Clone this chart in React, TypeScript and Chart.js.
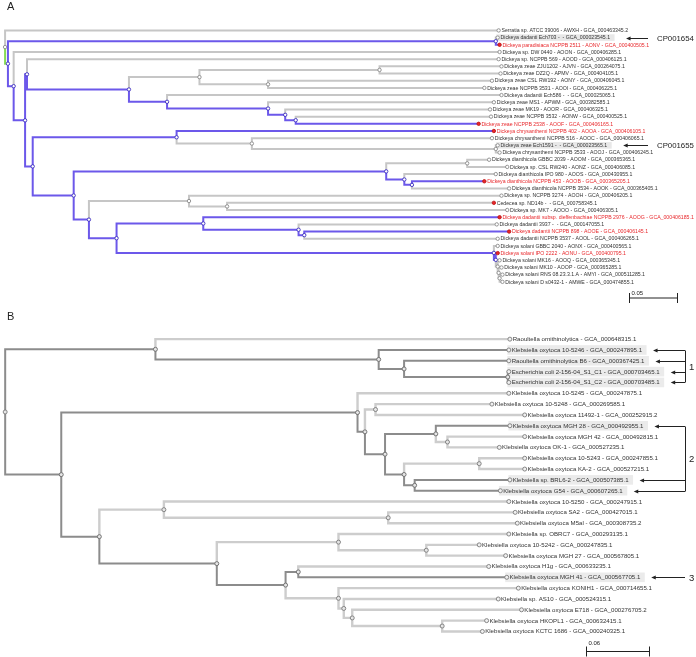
import React, { useEffect, useRef } from "react";
import { Chart, registerables } from "chart.js";

Chart.register(...registerables);

type Kid = number | string;

// ================= Panel A : Dickeya tree =================
const aLeafNames: string[] = [
  "Serratia sp. ATCC 39006 - AWXH - GCA_000463345.2",
  "Dickeya dadanti Ech703 -  - GCA_000023545.1",
  "Dickeya paradisiaca NCPPB 2511 - AONV - GCA_000400505.1",
  "Dickeya sp. DW 0440 - AOON - GCA_000406285.1",
  "Dickeya sp. NCPPB 569 - AOOD - GCA_000406125.1",
  "Dickeya zeae ZJU1202 - AJVN - GCA_000264075.1",
  "Dickeya zeae DZ2Q - APMV - GCA_000404105.1",
  "Dickeya zeae CSL RW192 - AONY - GCA_000406045.1",
  "Dickeya zeae NCPPB 3531 - AOOI - GCA_000406225.1",
  "Dickeya dadantii Ech586 -  - GCA_000025065.1",
  "Dickeya zeae MS1 - APWM - GCA_000382585.1",
  "Dickeya zeae MK19 - AOOR - GCA_000406325.1",
  "Dickeya zeae NCPPB 3532 - AONW - GCA_000400525.1",
  "Dickeya zeae NCPPB 2538 - AOOF - GCA_000406165.1",
  "Dickeya chrysanthemi NCPPB 402 - AOOA - GCA_000406105.1",
  "Dickeya chrysanthemi NCPPB 516 - AOOC - GCA_000406065.1",
  "Dickeya zeae Ech1591 -  - GCA_000023565.1",
  "Dickeya chrysanthemi NCPPB 3533 - AOOJ - GCA_000406245.1",
  "Dickeya dianthicola GBBC 2039 - AOOM - GCA_000365365.1",
  "Dickeya sp. CSL RW240 - AONZ - GCA_000406085.1",
  "Dickeya dianthicola IPO 980 - AOOS - GCA_000430955.1",
  "Dickeya dianthicola NCPPB 453 - AOOB - GCA_000365205.1",
  "Dickeya dianthicola NCPPB 3534 - AOOK - GCA_000365405.1",
  "Dickeya sp. NCPPB 3274 - AOOH - GCA_000406205.1",
  "Cedecea sp. ND14b -  - GCA_000758345.1",
  "Dickeya sp. MK7 - AOOO - GCA_000406305.1",
  "Dickeya dadantii subsp. dieffenbachiae NCPPB 2976 - AOOG - GCA_000406185.1",
  "Dickeya dadantii 3937 -  - GCA_000147055.1",
  "Dickeya dadantii NCPPB 898 - AOOE - GCA_000406145.1",
  "Dickeya dadantii NCPPB 3537 - AOOL - GCA_000406265.1",
  "Dickeya solani GBBC 2040 - AONX - GCA_000400565.1",
  "Dickeya solani IPO 2222 - AONU - GCA_000400795.1",
  "Dickeya solani MK16 - AOOQ - GCA_000365345.1",
  "Dickeya solani MK10 - AOOP - GCA_000365285.1",
  "Dickeya solani RNS 08.23.3.1.A - AMYI - GCA_000511285.1",
  "Dickeya solani D s0432-1 - AMWE - GCA_000474855.1",
];
// distance of each leaf from the root (substitutions / site)
const aLeafX: number[] = [
  0.518, 0.517, 0.519, 0.519, 0.518, 0.521, 0.52, 0.511, 0.503, 0.521, 0.513, 0.509,
  0.51, 0.497, 0.513, 0.511, 0.517, 0.519, 0.508, 0.527, 0.515, 0.503, 0.529, 0.521,
  0.513, 0.527, 0.519, 0.516, 0.529, 0.517, 0.517, 0.517, 0.519, 0.521, 0.522, 0.522,
];
// internal nodes: distance from root, and children (numbers = leaves, "nK" = node K)
const aNodeX: number[] = [
  0, 0.003, 0.515, 0.009, 0.021, 0.023, 0.13, 0.204, 0.393, 0.276, 0.17, 0.276,
  0.294, 0.305, 0.029, 0.18, 0.259, 0.515, 0.072, 0.4, 0.485, 0.419, 0.427, 0.088,
  0.193, 0.233, 0.117, 0.208, 0.308, 0.314, 0.513, 0.515, 0.517, 0.518, 0.519,
];
const aNodeKids: Kid[][] = [
  [0, "n1"], ["n2", "n3"], [1, 2], [3, "n4"], ["n5", "n14"], [4, "n6"],
  ["n7", "n10"], ["n8", "n9"], [5, 6], [7, 8], [9, "n11"], [10, "n12"],
  [11, "n13"], [12, 13], ["n15", "n18"], [14, "n16"], [15, "n17"], [16, 17],
  ["n19", "n23"], ["n20", "n21"], [18, 19], [20, "n22"], [21, 22], ["n24", "n26"],
  [23, "n25"], [24, 25], ["n27", "n30"], [26, "n28"], [27, "n29"], [28, 29],
  [30, "n31"], [31, "n32"], [32, "n33"], [33, "n34"], [34, 35],
];
const aRedLeaves: number[] = [2, 13, 14, 21, 26, 28, 31];
const aRedDotLeaves: number[] = [24];
const aBoxedLeaves: number[] = [1, 16];
const aAccentEdges: string[] = ["n1"];
const aGroupLeaves: number[][] = [[1], [16]];
const aGroupTexts: string[] = ["CP001654", "CP001655"];
const aScaleValue = 0.05;
const aScaleLabel = "0.05";

// ================= Panel B : Klebsiella tree =================
const bLeafNames: string[] = [
  "Raoultella ornithinolytica - GCA_000648315.1",
  "Klebsiella oxytoca 10-5246 - GCA_000247895.1",
  "Raoultella ornithinolytica B6 - GCA_000367425.1",
  "Escherichia coli 2-156-04_S1_C1 - GCA_000703465.1",
  "Escherichia coli 2-156-04_S1_C2 - GCA_000703485.1",
  "Klebsiella oxytoca 10-5245 - GCA_000247875.1",
  "Klebsiella oxytoca 10-5248 - GCA_000269585.1",
  "Klebsiella oxytoca 11492-1 - GCA_000252915.2",
  "Klebsiella oxytoca MGH 28 - GCA_000492955.1",
  "Klebsiella oxytoca MGH 42 - GCA_000492815.1",
  "Klebsiella oxytoca OK-1 - GCA_000527235.1",
  "Klebsiella oxytoca 10-5243 - GCA_000247855.1",
  "Klebsiella oxytoca KA-2 - GCA_000527215.1",
  "Klebsiella sp. BRL6-2 - GCA_000507385.1",
  "Klebsiella oxytoca G54 - GCA_000607265.1",
  "Klebsiella oxytoca 10-5250 - GCA_000247915.1",
  "Klebsiella oxytoca SA2 - GCA_000427015.1",
  "Klebsiella oxytoca M5al - GCA_000308735.2",
  "Klebsiella sp. OBRC7 - GCA_000293135.1",
  "Klebsiella oxytoca 10-5242 - GCA_000247835.1",
  "Klebsiella oxytoca MGH 27 - GCA_000567805.1",
  "Klebsiella oxytoca H1g - GCA_000633235.1",
  "Klebsiella oxytoca MGH 41 - GCA_000567705.1",
  "Klebsiella oxytoca KONIH1 - GCA_000714655.1",
  "Klebsiella sp. AS10 - GCA_000524315.1",
  "Klebsiella oxytoca E718 - GCA_000276705.2",
  "Klebsiella oxytoca HKOPL1 - GCA_000632415.1",
  "Klebsiella oxytoca KCTC 1686 - GCA_000240325.1",
];
const bLeafX: number[] = [
  0.477, 0.476, 0.476, 0.476, 0.476, 0.476, 0.46, 0.491, 0.477, 0.491, 0.467, 0.491,
  0.491, 0.477, 0.468, 0.476, 0.482, 0.484, 0.476, 0.448, 0.473, 0.457, 0.474, 0.485,
  0.466, 0.488, 0.455, 0.451,
];
const bNodeX: number[] = [
  0, 0.142, 0.353, 0.377, 0.475, 0.053, 0.333, 0.34, 0.35, 0.359, 0.407, 0.418,
  0.377, 0.448, 0.387, 0.089, 0.15, 0.362, 0.2, 0.315, 0.398, 0.265, 0.277, 0.315,
  0.32, 0.328, 0.413,
];
const bNodeKids: Kid[][] = [
  ["n1", "n5"], [0, "n2"], [1, "n3"], [2, "n4"], [3, 4], ["n6", "n15"],
  [5, "n7"], ["n8", "n9"], [6, 7], ["n10", "n12"], [8, "n11"], [9, 10],
  ["n13", "n14"], [11, 12], [13, 14], ["n16", "n18"], [15, "n17"], [16, 17],
  ["n19", "n21"], [18, "n20"], [19, 20], ["n22", "n23"], [21, 22], [23, "n24"],
  [24, "n25"], [25, "n26"], [26, 27],
];
const bMarkedLeaves: number[] = [1, 2, 3, 4, 8, 13, 14, 22];
const bGroupLeaves: number[][] = [[1, 2, 3, 4], [8, 13, 14], [22]];
const bGroupTexts: string[] = ["1", "2", "3"];
const bScaleValue = 0.06;
const bScaleLabel = "0.06";

// ================= rendering =================
const FONT = '"Liberation Sans", Arial, Helvetica, sans-serif';

interface Panel {
  letter: string;
  names: string[];
  leafX: number[];
  nodeX: number[];
  nodeKids: Kid[][];
  hiLeaves: number[];
  redText: number[];
  redDots: number[];
  boxed: number[];
  accent: string[];
  groupLeaves: number[][];
  groupTexts: string[];
  scaleValue: number;
  scaleLabel: string;
}

interface Look {
  height: number;
  pxPerUnit: number;
  rootPx: number;
  firstRowPx: number;
  rowPx: number;
  labelPx: number;
  labelGap: number;
  boxH: number;
  loColor: string;
  hiColor: string;
  accentColor: string;
  loWidth: number;
  hiWidth: number;
  nodeR: number;
  nodeFill: string;
  nodeLo: string;
  nodeHi: string;
  dotR: number;
  dotFill: string;
  dotBorder: string;
  redFill: string;
  redBorder: string;
  textColor: string;
  redTextColor: string;
  boxColor: string;
  groupFont: number;
  arrowGap: number;
  lineEnd: number;
  groupTextX: number;
  scaleX: number;
  scaleY: number;
  scaleTextDy: number;
}

const panelA: Panel = {
  letter: "A",
  names: aLeafNames,
  leafX: aLeafX,
  nodeX: aNodeX,
  nodeKids: aNodeKids,
  hiLeaves: aRedLeaves,
  redText: aRedLeaves,
  redDots: [...aRedLeaves, ...aRedDotLeaves],
  boxed: aBoxedLeaves,
  accent: aAccentEdges,
  groupLeaves: aGroupLeaves,
  groupTexts: aGroupTexts,
  scaleValue: aScaleValue,
  scaleLabel: aScaleLabel,
};

const panelB: Panel = {
  letter: "B",
  names: bLeafNames,
  leafX: bLeafX,
  nodeX: bNodeX,
  nodeKids: bNodeKids,
  hiLeaves: bMarkedLeaves,
  redText: [],
  redDots: [],
  boxed: bMarkedLeaves,
  accent: [],
  groupLeaves: bGroupLeaves,
  groupTexts: bGroupTexts,
  scaleValue: bScaleValue,
  scaleLabel: bScaleLabel,
};

const lookA: Look = {
  height: 310,
  pxPerUnit: 960,
  rootPx: 2.5,
  firstRowPx: 28.3,
  rowPx: 7.306,
  labelPx: 5.2,
  labelGap: 2.8,
  boxH: 6.6,
  loColor: "#c6c6c6",
  hiColor: "#6c58ea",
  accentColor: "#86dc55",
  loWidth: 2,
  hiWidth: 2,
  nodeR: 1.7,
  nodeFill: "#ffffff",
  nodeLo: "#8a8a8a",
  nodeHi: "#3b2cc0",
  dotR: 1.7,
  dotFill: "#ffffff",
  dotBorder: "#8a8a8a",
  redFill: "#e8262a",
  redBorder: "#c01818",
  textColor: "#333333",
  redTextColor: "#e8282c",
  boxColor: "#e8e8e8",
  groupFont: 7.8,
  arrowGap: 16,
  lineEnd: 648,
  groupTextX: 657,
  scaleX: 629,
  scaleY: 298,
  scaleTextDy: -5,
};

const lookB: Look = {
  height: 347,
  pxPerUnit: 1067,
  rootPx: 2.3,
  firstRowPx: 26.7,
  rowPx: 11.01,
  labelPx: 6.1,
  labelGap: 2.8,
  boxH: 9.6,
  loColor: "#cdcdcd",
  hiColor: "#8c8c8c",
  accentColor: "#8c8c8c",
  loWidth: 2.4,
  hiWidth: 2,
  nodeR: 2,
  nodeFill: "#e6e6e6",
  nodeLo: "#7a7a7a",
  nodeHi: "#6a6a6a",
  dotR: 2,
  dotFill: "#f0f0f0",
  dotBorder: "#7a7a7a",
  redFill: "#e8262a",
  redBorder: "#c01818",
  textColor: "#333333",
  redTextColor: "#e8282c",
  boxColor: "#ebebeb",
  groupFont: 9.5,
  arrowGap: 11,
  lineEnd: 685,
  groupTextX: 689,
  scaleX: 586,
  scaleY: 341.5,
  scaleTextDy: -8,
};

function layoutTree(p: Panel) {
  const idx = (k: string) => parseInt(k.slice(1), 10);
  const nodeY: number[] = [];
  const yOf = (k: Kid): number => (typeof k === "number" ? k : nodeYAt(idx(k)));
  function nodeYAt(i: number): number {
    if (nodeY[i] === undefined) {
      const ks = p.nodeKids[i];
      nodeY[i] = (yOf(ks[0]) + yOf(ks[ks.length - 1])) / 2;
    }
    return nodeY[i];
  }
  const xOf = (k: Kid) => (typeof k === "number" ? p.leafX[k] : p.nodeX[idx(k)]);
  const memo = new Map<string, boolean>();
  const isHi = (k: Kid): boolean => {
    if (typeof k === "number") return p.hiLeaves.includes(k);
    if (!memo.has(k)) memo.set(k, p.nodeKids[idx(k)].some(isHi));
    return memo.get(k) as boolean;
  };
  const lo: any[] = [];
  const hi: any[] = [];
  const acc: any[] = [];
  p.nodeKids.forEach((kids, i) => {
    const px = p.nodeX[i];
    const py = nodeYAt(i);
    kids.forEach((k) => {
      const target =
        typeof k === "string" && p.accent.includes(k) ? acc : isHi(k) ? hi : lo;
      target.push(
        { x: px, y: py },
        { x: px, y: yOf(k) },
        { x: xOf(k), y: yOf(k) },
        { x: px, y: null }
      );
    });
  });
  const nodes = p.nodeX.map((x, i) => ({ x, y: nodeYAt(i) }));
  const nodeHi = p.nodeX.map((_, i) => i > 0 && isHi("n" + i));
  const leaves = p.leafX.map((x, i) => ({ x, y: i }));
  return { lo, hi, acc, nodes, nodeHi, leaves };
}

function makeChart(canvas: HTMLCanvasElement, p: Panel, L: Look) {
  const t = layoutTree(p);
  const width = 696;
  const xMin = -L.rootPx / L.pxPerUnit;
  const xMax = xMin + width / L.pxPerUnit;
  const yMin = -L.firstRowPx / L.rowPx;
  const yMax = yMin + L.height / L.rowPx;
  const labelEnd: number[] = [];

  const edge = {
    type: "line" as const,
    showLine: true,
    pointRadius: 0,
    pointHoverRadius: 0,
    fill: false,
    tension: 0,
    spanGaps: false,
    clip: false as any,
    borderCapStyle: "butt" as const,
    borderJoinStyle: "miter" as const,
  };

  const treePlugin = {
    id: "treeText" + p.letter,
    beforeDatasetsDraw(chart: any) {
      const ctx: CanvasRenderingContext2D = chart.ctx;
      const xs = chart.scales.x;
      const ys = chart.scales.y;
      ctx.save();
      ctx.font = `${L.labelPx}px ${FONT}`;
      p.boxed.forEach((i) => {
        const x = xs.getPixelForValue(p.leafX[i]);
        const y = ys.getPixelForValue(i);
        const w = ctx.measureText(p.names[i]).width;
        ctx.fillStyle = L.boxColor;
        ctx.fillRect(x - 1.5, y - L.boxH / 2, w + L.labelGap + 6, L.boxH);
      });
      ctx.restore();
    },
    afterDatasetsDraw(chart: any) {
      const ctx: CanvasRenderingContext2D = chart.ctx;
      const xs = chart.scales.x;
      const ys = chart.scales.y;
      ctx.save();
      // leaf labels
      ctx.font = `${L.labelPx}px ${FONT}`;
      ctx.textBaseline = "middle";
      ctx.textAlign = "left";
      p.names.forEach((name, i) => {
        const x = xs.getPixelForValue(p.leafX[i]) + L.labelGap;
        const y = ys.getPixelForValue(i) + 0.3;
        ctx.fillStyle = p.redText.includes(i) ? L.redTextColor : L.textColor;
        ctx.fillText(name, x, y);
        labelEnd[i] = x + ctx.measureText(name).width;
      });
      // panel letter
      ctx.fillStyle = "#222";
      ctx.font = `11px ${FONT}`;
      ctx.fillText(p.letter, 7, 7);
      // callouts / brackets
      ctx.strokeStyle = "#222";
      ctx.fillStyle = "#222";
      ctx.lineWidth = 1;
      p.groupLeaves.forEach((g, gi) => {
        const yy = g.map((i) => Math.round(ys.getPixelForValue(i)) + 0.5);
        g.forEach((i, j) => {
          const tip = Math.min(labelEnd[i] + L.arrowGap, L.lineEnd - 10);
          ctx.beginPath();
          ctx.moveTo(tip + 3, yy[j]);
          ctx.lineTo(L.lineEnd, yy[j]);
          ctx.stroke();
          ctx.beginPath();
          ctx.moveTo(tip, yy[j]);
          ctx.lineTo(tip + 4.5, yy[j] - 1.9);
          ctx.lineTo(tip + 4.5, yy[j] + 1.9);
          ctx.closePath();
          ctx.fill();
        });
        if (g.length > 1) {
          ctx.beginPath();
          ctx.moveTo(L.lineEnd + 0.5, yy[0]);
          ctx.lineTo(L.lineEnd + 0.5, yy[yy.length - 1]);
          ctx.stroke();
        }
        ctx.font = `${L.groupFont}px ${FONT}`;
        ctx.textBaseline = "middle";
        ctx.fillText(p.groupTexts[gi], L.groupTextX, (yy[0] + yy[yy.length - 1]) / 2 + 0.5);
      });
      // scale bar
      const x0 = L.scaleX + 0.5;
      const v0 = xs.getValueForPixel(L.scaleX);
      const x1 = Math.round(xs.getPixelForValue(v0 + p.scaleValue)) + 0.5;
      const sy = L.scaleY;
      ctx.beginPath();
      ctx.moveTo(x0, sy);
      ctx.lineTo(x1, sy);
      ctx.moveTo(x0, sy - 5);
      ctx.lineTo(x0, sy + 5);
      ctx.moveTo(x1, sy - 5);
      ctx.lineTo(x1, sy + 5);
      ctx.stroke();
      ctx.font = `6px ${FONT}`;
      ctx.textBaseline = "middle";
      ctx.fillText(p.scaleLabel, x0 + 2, sy + L.scaleTextDy);
      ctx.restore();
    },
  };

  return new Chart(canvas, {
    type: "line",
    data: {
      datasets: [
        {
          label: "leaves",
          data: t.leaves,
          showLine: false,
          pointRadius: L.dotR,
          pointHoverRadius: L.dotR,
          pointBorderWidth: 0.9,
          pointBackgroundColor: p.leafX.map((_, i) => (p.redDots.includes(i) ? L.redFill : L.dotFill)),
          pointBorderColor: p.leafX.map((_, i) => (p.redDots.includes(i) ? L.redBorder : L.dotBorder)),
          clip: false as any,
          order: 0,
        },
        {
          label: "nodes",
          data: t.nodes,
          showLine: false,
          pointRadius: L.nodeR,
          pointHoverRadius: L.nodeR,
          pointBorderWidth: 0.9,
          pointBackgroundColor: L.nodeFill,
          pointBorderColor: t.nodeHi.map((h) => (h ? L.nodeHi : L.nodeLo)),
          clip: false as any,
          order: 1,
        },
        { ...edge, label: "accent", data: t.acc, borderColor: L.accentColor, borderWidth: L.hiWidth, order: 2 },
        { ...edge, label: "highlight", data: t.hi, borderColor: L.hiColor, borderWidth: L.hiWidth, order: 3 },
        { ...edge, label: "other", data: t.lo, borderColor: L.loColor, borderWidth: L.loWidth, order: 4 },
      ] as any,
    },
    options: {
      animation: false,
      responsive: false,
      maintainAspectRatio: false,
      devicePixelRatio: 1,
      events: [],
      layout: { padding: 0 },
      plugins: { legend: { display: false }, tooltip: { enabled: false }, title: { display: false } },
      scales: {
        x: { type: "linear", display: false, min: xMin, max: xMax },
        y: { type: "linear", display: false, reverse: true, min: yMin, max: yMax },
      },
    },
    plugins: [treePlugin],
  });
}

export default function App() {
  const refA = useRef<HTMLCanvasElement>(null);
  const refB = useRef<HTMLCanvasElement>(null);
  useEffect(() => {
    const ca = makeChart(refA.current as HTMLCanvasElement, panelA, lookA);
    const cb = makeChart(refB.current as HTMLCanvasElement, panelB, lookB);
    return () => {
      ca.destroy();
      cb.destroy();
    };
  }, []);
  return (
    <div style={{ position: "absolute", left: 0, top: 0, width: 696, height: 657, background: "#ffffff", overflow: "hidden" }}>
      <canvas
        ref={refA}
        width={696}
        height={lookA.height}
        style={{ position: "absolute", left: 0, top: 0, width: 696, height: lookA.height }}
      />
      <canvas
        ref={refB}
        width={696}
        height={lookB.height}
        style={{ position: "absolute", left: 0, top: lookA.height, width: 696, height: lookB.height }}
      />
    </div>
  );
}
